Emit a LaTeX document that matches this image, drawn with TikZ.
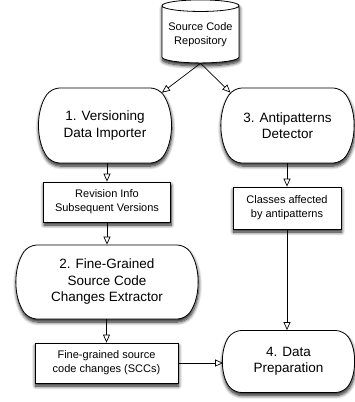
\documentclass[tikz,border=0pt]{standalone}
\usepackage{fontspec}
\setmainfont{Liberation Sans}
\usetikzlibrary{shapes.geometric,shapes.misc,shadows.blur,arrows.meta}
\tikzset{
  shade/.style={blur shadow={shadow xshift=0.5pt,shadow yshift=-3pt,
    shadow blur radius=3.5pt,shadow blur steps=8,shadow opacity=90}},
  proc/.style={rounded rectangle,rounded rectangle arc length=70,rounded corners=8pt,
    draw,line width=0.8pt,fill=white,shade,align=center,inner sep=0pt,
    font=\fontsize{13.5}{16.5}\selectfont},
  data/.style={rectangle,draw,line width=0.8pt,fill=white,shade,align=center,inner sep=0pt,
    font=\fontsize{11}{14}\selectfont},
  store/.style={cylinder,shape border rotate=90,aspect=0.18,draw,line width=0.8pt,
    fill=white,shade,align=center,inner sep=0pt,font=\fontsize{11}{14}\selectfont},
  flow/.style={line width=0.7pt,-{Triangle[open,length=8pt,width=7pt]}},
}
\begin{document}
\begin{tikzpicture}[x=1pt,y=-1pt]
  \useasboundingbox (0,0) rectangle (354,402);
  \node[store,minimum width=77pt,minimum height=63pt] (repo) at (200.5,34.5)
    {Source Code\\Repository};
  \node[proc,minimum width=125pt,minimum height=75pt] (import) at (105,125.5)
    {1. Versioning\\Data Importer};
  \node[proc,minimum width=131pt,minimum height=75pt] (detect) at (287.5,125.5)
    {3. Antipatterns\\Detector};
  \node[data,minimum width=127pt,minimum height=40pt] (revinfo) at (107,202)
    {Revision Info\\Subsequent Versions};
  \node[data,minimum width=108pt,minimum height=42pt] (classes) at (287,208)
    {Classes affected\\by antipatterns};
  \node[proc,minimum width=180pt,minimum height=74pt] (extract) at (107,282)
    {2. Fine-Grained\\Source Code\\Changes Extractor};
  \node[data,minimum width=143pt,minimum height=40pt] (sccs) at (106.5,363)
    {Fine-grained source\\code changes (SCCs)};
  \node[proc,minimum width=130pt,minimum height=62pt] (prep) at (288.5,361.5)
    {4. Data\\Preparation};
  \begin{scope}[flow]
    \draw (repo.south) to (import.30);
    \draw (repo.south) to (detect.150);
    \draw (import.south -| revinfo.north) to (revinfo.north);
    \draw (revinfo.south) to (revinfo.south |- extract.north);
    \draw (extract.south -| sccs.north) to (sccs.north);
    \draw (detect.south -| classes.north) to (classes.north);
    \draw (classes.south) to (classes.south |- prep.north);
    \draw (sccs.east) to (sccs.east -| prep.west);
  \end{scope}
\end{tikzpicture}
\end{document}
